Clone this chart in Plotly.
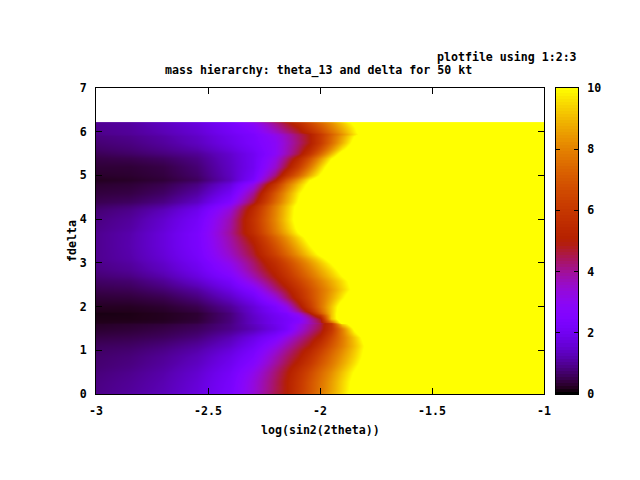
import numpy as np
import plotly.graph_objects as go

TEXT_FONT = dict(family="DejaVu Sans Mono", size=11.6, color="black", weight="bold")

x_tick_vals = [-3, -2.5, -2, -1.5, -1]
x_tick_text = ["-3", "-2.5", "-2", "-1.5", "-1"]
y_tick_vals = [0, 1, 2, 3, 4, 5, 6, 7]
cbar_tick_vals = [0, 2, 4, 6, 8, 10]

log_sin = [-3, -2.85, -2.7, -2.55, -2.4, -2.3, -2.2, -2.15, -2.1, -2.05, -2.0, -1.95, -1.9, -1.85, -1.8, -1.7, -1.0]

# cell edges, not centres, so the map stops at 6.2 and not half a cell above it
delta_edges = [0, 0.1, 0.5, 0.7, 1.0, 1.2, 1.4, 1.6, 1.64, 1.8, 1.9, 2.1, 2.3, 2.5, 2.7, 3.0, 3.2, 3.6, 3.8, 4.2, 4.4, 4.8, 5.0, 5.4, 5.6, 5.9, 6.0, 6.2, 6.22]

sigma = [
    [0.9, 1.08, 1.3, 1.7, 2.35, 3.4, 4.5, 5.0, 6.0, 6.9, 7.8, 8.65, 9.5, 10.5, 11.4, 12.5, 14],
    [0.85, 1.0, 1.22, 1.6, 2.25, 3.3, 4.4, 5.0, 5.9, 6.8, 7.65, 8.5, 9.4, 10.3, 11.2, 12.5, 14],
    [0.75, 0.88, 1.1, 1.45, 2.05, 2.9, 4.1, 4.7, 5.5, 6.3, 7.2, 8.0, 8.9, 9.85, 10.7, 12.3, 14],
    [0.7, 0.8, 1.0, 1.3, 1.85, 2.5, 3.7, 4.3, 4.9, 5.7, 6.65, 7.55, 8.45, 9.4, 10.3, 12.2, 14],
    [0.6, 0.65, 0.8, 1.05, 1.5, 2.1, 3.1, 3.75, 4.4, 4.95, 5.9, 6.95, 7.95, 9.05, 10.1, 12, 14],
    [0.45, 0.5, 0.6, 0.8, 1.25, 1.8, 2.5, 3.2, 3.9, 4.5, 5.2, 6.5, 7.8, 9.2, 10.5, 12.2, 14],
    [0.3, 0.35, 0.45, 0.6, 0.9, 1.25, 1.8, 2.2, 3.2, 3.95, 4.6, 5.9, 7.95, 10.2, 11.5, 12.5, 14],
    [0.2, 0.25, 0.3, 0.45, 0.85, 1.4, 1.95, 2.25, 2.9, 3.65, 4.4, 5.9, 10.4, 11.5, 12, 13, 14],
    [0.15, 0.15, 0.2, 0.33, 0.8, 1.4, 1.95, 2.2, 2.6, 3.7, 4.8, 9.1, 11, 11.6, 12, 13, 14],
    [0.12, 0.14, 0.2, 0.32, 0.8, 1.5, 2.1, 2.4, 3.3, 4.75, 6.9, 9.15, 11, 11.6, 12, 13, 14],
    [0.22, 0.22, 0.3, 0.5, 1.0, 1.6, 2.35, 3.1, 4.55, 6.0, 7.6, 9.15, 10.7, 11.5, 12, 13, 14],
    [0.35, 0.38, 0.5, 0.8, 1.4, 2.05, 3.3, 4.3, 5.4, 6.5, 7.6, 8.7, 9.8, 11, 11.8, 13, 14],
    [0.5, 0.55, 0.75, 1.1, 1.8, 2.6, 4.15, 4.85, 5.8, 6.7, 7.6, 8.45, 9.35, 10.3, 11.2, 12.5, 14],
    [0.65, 0.72, 1.0, 1.5, 2.2, 3.4, 4.7, 5.45, 6.35, 7.15, 8.0, 8.8, 9.6, 10.5, 11.4, 12.7, 14],
    [0.85, 1.0, 1.35, 1.9, 2.85, 4.1, 5.3, 6.1, 7.05, 7.9, 8.75, 9.55, 10.4, 11.3, 12, 13, 14],
    [0.95, 1.15, 1.55, 2.15, 3.35, 4.47, 5.9, 6.8, 7.8, 8.7, 9.6, 10.5, 11.3, 12, 12.5, 13, 14],
    [0.95, 1.2, 1.65, 2.3, 3.75, 4.9, 6.8, 7.8, 8.9, 9.9, 10.8, 11.5, 12, 12.5, 13, 13.5, 14],
    [0.95, 1.18, 1.65, 2.33, 4.0, 5.6, 7.75, 8.8, 10, 11, 11.8, 12.3, 12.7, 13, 13.2, 13.5, 14],
    [0.85, 1.05, 1.5, 2.15, 3.8, 5.8, 8.1, 9.3, 10.5, 11.3, 12, 12.4, 12.7, 13, 13.2, 13.5, 14],
    [0.65, 0.8, 1.1, 1.7, 3.1, 5.3, 7.9, 9.1, 10.4, 11.2, 11.9, 12.3, 12.7, 13, 13.2, 13.5, 14],
    [0.4, 0.45, 0.65, 1.1, 2.1, 4.0, 7.0, 8.4, 9.8, 10.8, 11.6, 12.1, 12.6, 13, 13.2, 13.5, 14],
    [0.2, 0.25, 0.35, 0.6, 1.3, 2.3, 4.9, 6.85, 8.4, 9.85, 10.9, 11.6, 12.1, 12.6, 13, 13.5, 14],
    [0.35, 0.35, 0.45, 0.75, 1.4, 2.0, 3.5, 4.7, 6.15, 7.7, 9.3, 10.8, 11.6, 12.2, 12.7, 13.3, 14],
    [0.55, 0.65, 0.8, 1.0, 1.5, 2.0, 2.9, 3.7, 4.6, 5.85, 7.4, 9, 10.6, 11.5, 12, 13, 14],
    [0.75, 0.85, 1.05, 1.35, 1.85, 2.3, 2.9, 3.55, 4.25, 4.9, 6.1, 7.5, 8.9, 10.4, 11.5, 12.8, 14],
    [0.9, 1.0, 1.2, 1.5, 2.0, 2.38, 3.2, 3.75, 4.4, 4.95, 6.05, 7.2, 8.3, 9.6, 10.7, 12.5, 14],
    [0.95, 1.05, 1.3, 1.6, 2.15, 2.65, 3.8, 4.4, 5, 6, 6.9, 7.9, 8.85, 9.9, 10.9, 12.5, 14],
    [1.0, 1.1, 1.4, 1.75, 2.3, 3.2, 4.35, 4.95, 5.9, 6.8, 7.7, 8.5, 9.5, 10.5, 11.4, 12.6, 14],
]


# gnuplot's default pm3d palette, rgbformulae 7,5,15
def palette(n=64):
    stops = []
    for t in np.linspace(0, 1, n):
        r = np.sqrt(t)
        g = t**3
        b = max(np.sin(2 * np.pi * t), 0)
        stops.append([float(t), f"rgb({r * 255:.0f},{g * 255:.0f},{b * 255:.0f})"])
    return stops


cbar_levels = [i / 10 for i in range(101)]

fig = go.Figure()
fig.add_trace(
    go.Heatmap(
        x=log_sin,
        y=delta_edges,
        z=sigma,
        zmin=0,
        zmax=10,
        colorscale=palette(),
        zsmooth="best",
        showscale=False,
        hoverinfo="skip",
    )
)
fig.add_trace(
    go.Heatmap(
        x=[0, 1],
        y=cbar_levels,
        z=[[v, v] for v in cbar_levels],
        zmin=0,
        zmax=10,
        colorscale=palette(),
        showscale=False,
        hoverinfo="skip",
        xaxis="x2",
        yaxis="y2",
    )
)

axis_style = dict(
    showgrid=False,
    zeroline=False,
    showline=True,
    linecolor="black",
    linewidth=1,
    mirror="allticks",
    ticks="inside",
    ticklen=6,
    tickwidth=1,
    tickcolor="black",
    tickfont=TEXT_FONT,
    ticklabelstandoff=6,
)

# the page body has an 8px margin, so the figure is sized and placed around it
fig.update_layout(
    width=624,
    height=464,
    autosize=False,
    paper_bgcolor="white",
    plot_bgcolor="white",
    margin=dict(l=88, r=54, t=80, b=78),
    showlegend=False,
    xaxis=dict(
        axis_style,
        domain=[0, 448 / 482],
        range=[-3, -1],
        tickvals=x_tick_vals,
        ticktext=x_tick_text,
    ),
    yaxis=dict(axis_style, range=[0, 7], tickvals=y_tick_vals),
    xaxis2=dict(
        domain=[460 / 482, 1],
        range=[0, 1],
        showticklabels=False,
        ticks="",
        showgrid=False,
        zeroline=False,
        showline=True,
        linecolor="black",
        linewidth=1,
        mirror=True,
        anchor="y2",
    ),
    yaxis2=dict(
        axis_style,
        range=[0, 10],
        tickvals=cbar_tick_vals,
        side="right",
        anchor="x2",
        ticklen=4,
    ),
    annotations=[
        dict(text="mass hierarchy: theta_13 and delta for 50 kt", x=318, y=70, xanchor="center"),
        dict(text="plotfile using 1:2:3", x=435, y=57, xanchor="left"),
        dict(text="log(sin2(2theta))", x=320, y=430, xanchor="center"),
        dict(text="fdelta", x=72, y=241, xanchor="center", textangle=-90),
    ],
)

# annotation spots above are window pixels, convert them to paper fractions
for a in fig.layout.annotations:
    a.update(
        x=(a.x - 96) / 482,
        y=(394 - a.y) / 306,
        xref="paper",
        yref="paper",
        yanchor="middle",
        showarrow=False,
        font=TEXT_FONT,
    )

fig.write_html("out.html")
